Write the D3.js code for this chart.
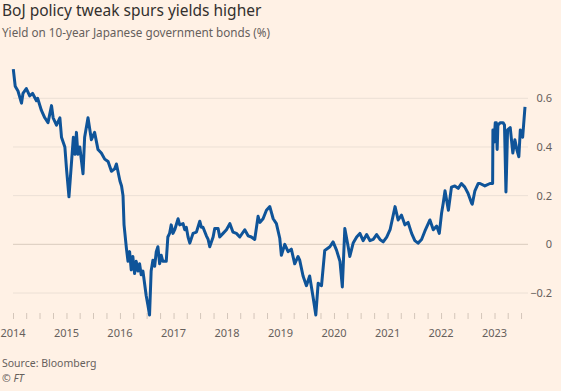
<!DOCTYPE html>
<html>
<head>
<meta charset="utf-8">
<script src="https://cdn.jsdelivr.net/npm/d3@7"></script>
<style>
  html, body { margin: 0; padding: 0; background: #fff1e5; }
  svg { display: block; font-family: "Noto Sans", sans-serif; }
</style>
</head>
<body>
<svg width="561" height="391"></svg>
<script>
const svg = d3.select("svg");
const width = +svg.attr("width");
const height = +svg.attr("height");

// DATA
const dates = [
  "2014-01-03","2014-01-16","2014-02-04","2014-02-28","2014-03-10","2014-04-02","2014-04-25","2014-05-15",
  "2014-06-10","2014-06-18","2014-07-14","2014-08-06","2014-08-28","2014-09-21","2014-10-02","2014-10-25",
  "2014-11-17","2014-11-28","2014-12-21","2015-01-02","2015-01-18","2015-02-06","2015-02-17","2015-02-28",
  "2015-03-10","2015-03-20","2015-04-02","2015-04-24","2015-05-05","2015-05-28","2015-06-20","2015-07-12",
  "2015-08-04","2015-08-27","2015-09-19","2015-10-12","2015-11-04","2015-11-26","2015-12-08","2016-01-01",
  "2016-01-12","2016-01-22","2016-01-29","2016-02-14","2016-02-25","2016-03-07","2016-03-18","2016-03-29",
  "2016-04-10","2016-04-21","2016-05-03","2016-05-14","2016-05-25","2016-06-06","2016-06-17","2016-06-28",
  "2016-07-10","2016-07-21","2016-08-01","2016-08-13","2016-08-25","2016-09-05","2016-09-16","2016-09-28",
  "2016-10-09","2016-10-20","2016-11-12","2016-11-23","2016-12-05","2016-12-16","2016-12-28","2017-01-09",
  "2017-02-01","2017-02-12","2017-03-07","2017-03-18","2017-03-29","2017-04-10","2017-04-22","2017-05-14",
  "2017-06-06","2017-06-29","2017-07-10","2017-07-21","2017-08-13","2017-08-25","2017-09-05","2017-09-28",
  "2017-10-09","2017-11-01","2017-11-12","2017-12-05","2017-12-28","2018-01-20","2018-02-11","2018-03-06",
  "2018-03-29","2018-05-02","2018-05-25","2018-06-16","2018-07-09","2018-08-01","2018-08-13","2018-09-04",
  "2018-09-27","2018-10-20","2018-11-12","2018-12-04","2018-12-27","2019-01-07","2019-01-30","2019-02-22",
  "2019-03-16","2019-04-08","2019-05-01","2019-05-12","2019-06-04",
  "2019-06-27","2019-07-19","2019-08-11","2019-08-30","2019-09-15","2019-10-08","2019-10-30","2019-12-04",
  "2019-12-26","2020-01-19","2020-02-11","2020-02-27","2020-03-15","2020-04-07","2020-04-18","2020-05-11",
  "2020-06-04","2020-06-26","2020-07-18","2020-08-11","2020-09-03","2020-09-25","2020-10-18","2020-11-10",
  "2020-12-02","2020-12-26","2021-01-18","2021-02-21","2021-03-14","2021-04-06","2021-04-29","2021-05-21",
  "2021-06-14","2021-07-06","2021-07-28","2021-08-21","2021-09-13","2021-10-17","2021-11-09","2021-12-02",
  "2021-12-20","2022-01-05","2022-01-16","2022-01-28","2022-02-20","2022-03-13","2022-04-05","2022-04-28",
  "2022-05-20","2022-06-12","2022-07-04","2022-07-28","2022-08-02","2022-08-20","2022-09-12","2022-09-24",
  "2022-10-27","2022-12-01","2022-12-19","2022-12-21","2022-12-29","2023-01-06","2023-01-13","2023-01-19",
  "2023-01-24","2023-02-10","2023-02-28","2023-03-10","2023-03-20","2023-03-24","2023-03-31","2023-04-18",
  "2023-05-06","2023-05-20","2023-06-04","2023-06-16","2023-06-26","2023-07-12","2023-07-28"
];
const yields = [
  0.72,0.65,0.63,0.58,0.62,0.64,0.61,0.62,
  0.59,0.60,0.55,0.52,0.50,0.57,0.52,0.49,
  0.52,0.44,0.40,0.305,0.195,0.35,0.44,0.37,
  0.46,0.37,0.40,0.29,0.44,0.52,0.43,0.46,
  0.39,0.375,0.35,0.34,0.30,0.31,0.33,0.26,
  0.24,0.20,0.08,-0.016,-0.07,-0.03,-0.105,-0.05,
  -0.12,-0.07,-0.11,-0.08,-0.125,-0.11,-0.16,-0.21,
  -0.25,-0.29,-0.11,-0.065,-0.09,-0.03,-0.01,-0.08,
  -0.045,-0.07,-0.07,0.03,0.045,0.08,0.045,0.06,
  0.105,0.08,0.085,0.06,0.07,0.03,0.005,0.045,
  0.05,0.095,0.07,0.07,0.035,0.02,-0.01,0.03,
  0.065,0.065,0.03,0.045,0.06,0.085,0.05,0.045,
  0.03,0.06,0.035,0.03,0.02,0.115,0.09,0.105,
  0.14,0.155,0.105,0.085,0.025,-0.045,0.0,-0.03,
  -0.02,-0.08,-0.05,-0.065,-0.13,
  -0.17,-0.13,-0.215,-0.29,-0.16,-0.17,-0.025,-0.01,
  0.01,-0.025,-0.07,-0.175,0.065,-0.01,-0.05,0.005,
  0.03,0.045,0.015,0.04,0.015,0.02,0.04,0.02,
  0.01,0.03,0.06,0.155,0.10,0.12,0.08,0.09,
  0.045,0.015,0.005,0.02,0.055,0.10,0.06,0.075,
  0.045,0.13,0.17,0.22,0.14,0.235,0.24,0.23,
  0.25,0.235,0.21,0.17,0.165,0.22,0.25,0.25,
  0.24,0.25,0.25,0.47,0.42,0.50,0.50,0.39,
  0.49,0.50,0.50,0.49,0.215,0.305,0.47,0.48,
  0.375,0.43,0.385,0.36,0.47,0.44,0.565
];
const yTicks = [-0.2, 0, 0.2, 0.4, 0.6];
const yearLabels = [2014, 2015, 2016, 2017, 2018, 2019, 2020, 2021, 2022, 2023];

const title = "BoJ policy tweak spurs yields higher";
const subtitle = "Yield on 10-year Japanese government bonds (%)";
const source = "Source: Bloomberg";

const parse = d3.timeParse("%Y-%m-%d");
const data = dates.map((d, i) => ({ date: parse(d), value: yields[i] }));

// SCALES
const x = d3.scaleTime()
  .domain([new Date(2014, 0, 1), new Date(2024, 0, 1)])
  .range([13, 548]);

const y = d3.scaleLinear()
  .domain([-0.2, 0.6])
  .range([293, 98.3]);

// HEADER
svg.append("text")
  .attr("x", 2).attr("y", 16)
  .attr("font-size", "15.5px")
  .attr("fill", "#33302e")
  .text(title);

svg.append("text")
  .attr("x", 2).attr("y", 37)
  .attr("font-size", "11.7px")
  .attr("fill", "#66605c")
  .text(subtitle);

// GRID + Y LABELS
const grid = svg.append("g");
grid.selectAll("line")
  .data(yTicks)
  .join("line")
  .attr("x1", 13).attr("x2", 528)
  .attr("y1", d => y(d)).attr("y2", d => y(d))
  .attr("stroke", d => d === 0 ? "#d9cbbf" : "#ece0d5")
  .attr("stroke-width", 1);

grid.selectAll("text")
  .data(yTicks)
  .join("text")
  .attr("x", 552)
  .attr("y", d => y(d))
  .attr("dy", "0.35em")
  .attr("text-anchor", "end")
  .attr("font-size", "11px")
  .attr("fill", "#66605c")
  .text(d => d3.format("")(+d.toFixed(1)));

// X AXIS
const xAxis = d3.axisBottom(x)
  .ticks(d3.timeMonth.every(3))
  .tickSize(6)
  .tickFormat("");

const xg = svg.append("g")
  .attr("transform", "translate(0,313)")
  .call(xAxis);
xg.select(".domain").remove();
xg.selectAll(".tick line").attr("stroke", "#d4c6ba");
xg.selectAll(".tick").filter(d => d > new Date(2023, 6, 1)).remove();

svg.append("g")
  .selectAll("text")
  .data(yearLabels)
  .join("text")
  .attr("x", d => x(new Date(d, 0, 1)))
  .attr("y", 337)
  .attr("text-anchor", "middle")
  .attr("font-size", "11px")
  .attr("fill", "#66605c")
  .text(d => d);

// LINE
const line = d3.line()
  .x(d => x(d.date))
  .y(d => y(d.value));

svg.append("path")
  .datum(data)
  .attr("fill", "none")
  .attr("stroke", "#0f5499")
  .attr("stroke-width", 3)
  .attr("stroke-linejoin", "round")
  .attr("d", line);

// FOOTER
svg.append("text")
  .attr("x", 2).attr("y", 367)
  .attr("font-size", "10.5px")
  .attr("fill", "#66605c")
  .text(source);

svg.append("text")
  .attr("x", 2).attr("y", 382)
  .attr("font-size", "10.5px")
  .attr("font-style", "italic")
  .attr("fill", "#66605c")
  .text("© FT");
</script>
</body>
</html>
